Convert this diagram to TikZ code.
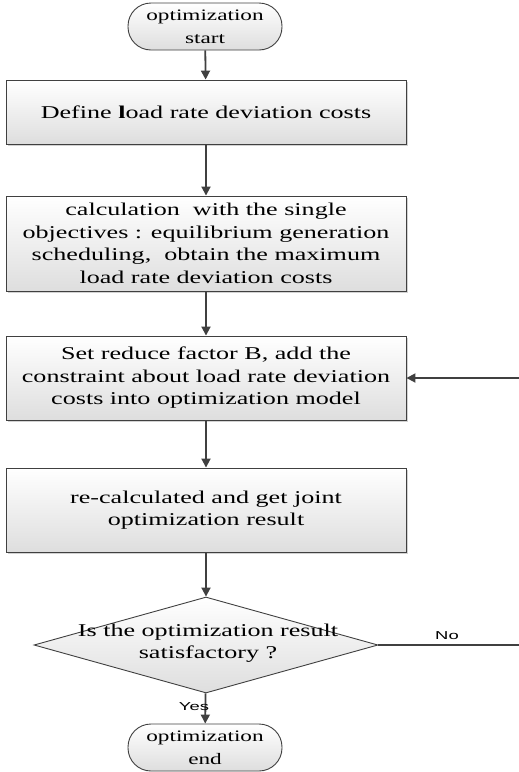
\documentclass[tikz,border=0pt]{standalone}
\usepackage{fontspec}
\setmainfont{Liberation Serif}
\newfontfamily\boxfont[FakeStretch=1.45]{Liberation Serif}
\newfontfamily\lblfont[FakeStretch=1.6]{Liberation Sans}
\usetikzlibrary{arrows.meta,shapes.geometric,shadows}
\definecolor{edge}{HTML}{404040}
\begin{document}
\begin{tikzpicture}[x=1pt,y=1pt,
  procbox/.style={draw=edge,line width=0.9pt,top color=white,bottom color=black!13,
    minimum width=400pt,inner sep=0pt,align=center,
    font=\boxfont\fontsize{18}{22.5}\selectfont,
    drop shadow={shadow xshift=2pt,shadow yshift=-2pt,fill=black!25,opacity=0.7}},
  termbox/.style={draw=edge,line width=0.9pt,top color=white,bottom color=black!13,
    rounded corners=23pt,minimum width=154pt,minimum height=47pt,inner sep=0pt,
    align=center,font=\boxfont\fontsize{16}{23}\selectfont},
  decbox/.style={diamond,draw=edge,line width=0.9pt,top color=white,bottom color=black!13,
    minimum width=344pt,minimum height=96pt,inner sep=0pt},
  flow/.style={draw=edge,line width=1.8pt,-{Triangle[width=9pt,length=9pt]}},
  plainline/.style={draw=edge,line width=1.8pt},
  lbl/.style={font=\lblfont\fontsize{11.5}{13}\selectfont,inner sep=0pt}]
\useasboundingbox (0,0) rectangle (519,-772);

\node[termbox] (start) at (205,-26.5) {optimization\\start};
\node[procbox,minimum height=64pt] (b1) at (206,-112) {Define \textbf{l}oad rate deviation costs};
\node[procbox,minimum height=95pt] (b2) at (206,-243.5) {calculation\ \ with the single\\objectives : equilibrium generation\\scheduling,\ \ obtain the maximum\\load rate deviation costs};
\node[procbox,minimum height=84pt] (b3) at (206,-378) {Set reduce factor B, add the\\constraint about load rate deviation\\costs into optimization model};
\node[procbox,minimum height=84pt] (b4) at (206,-510) {re-calculated and get joint\\optimization result};
\node[decbox] (d) at (206,-645) {};
\node[align=center,inner sep=0pt,font=\boxfont\fontsize{18}{22}\selectfont] (dt) at (208,-643) {Is the optimization result\\satisfactory ?};
\node[termbox] (end) at (205,-747.5) {optimization\\end};

\coordinate (noend) at (519,-645);
\coordinate (fbstart) at (519,-378);

\draw[flow] (start) -- (b1);
\draw[flow] (b1) -- (b2);
\draw[flow] (b2) -- (b3);
\draw[flow] (b3) -- (b4);
\draw[flow] (b4) -- (d);
\draw[flow] (d) -- (end);
\draw[plainline] (d.east) -- (noend);
\draw[flow] (fbstart) -- (b3.east);

\node[lbl] (no) at (447,-636) {No};
\node[lbl] (yes) at (194,-707) {Yes};
\end{tikzpicture}
\end{document}
